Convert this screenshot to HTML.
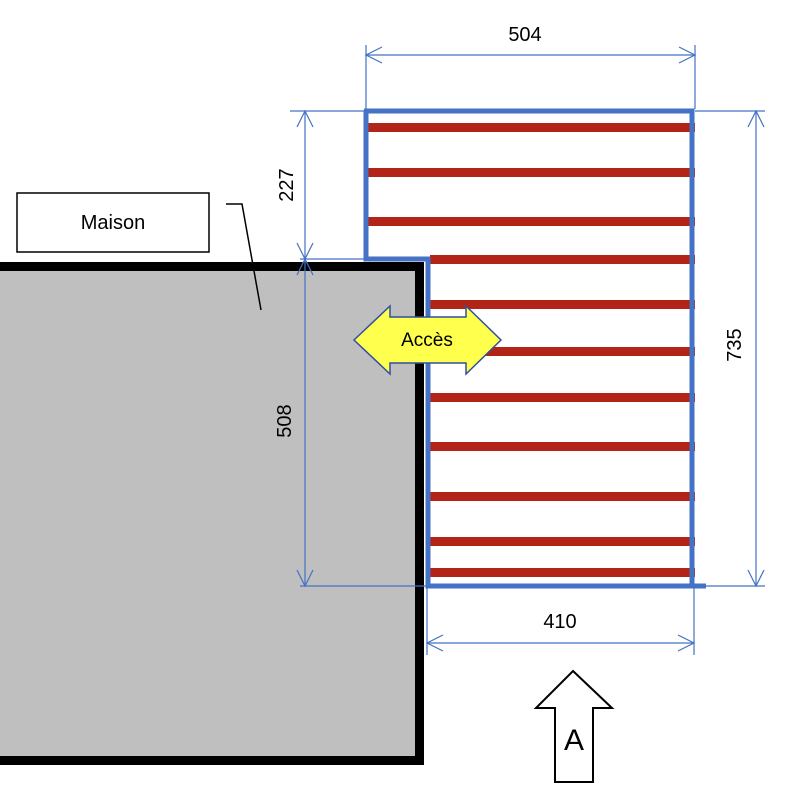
<!DOCTYPE html>
<html><head><meta charset="utf-8"><style>html,body{margin:0;padding:0;background:#fff}svg{display:block}text{font-family:"Liberation Sans",sans-serif}</style></head><body>
<svg width="800" height="796" viewBox="0 0 800 796" xmlns="http://www.w3.org/2000/svg">
<rect x="-10" y="266.5" width="429.5" height="494" fill="#bfbfbf" stroke="#000" stroke-width="9"/>
<rect x="17" y="193" width="192" height="59" fill="#fff" stroke="#000" stroke-width="1.5"/>
<text x="113" y="229" font-size="20" text-anchor="middle">Maison</text>
<polyline points="226,204 242,204 261,310" fill="none" stroke="#000" stroke-width="1.5"/>
<g fill="#b22418">
<rect x="368" y="123" width="327" height="9"/>
<rect x="368" y="168" width="327" height="9"/>
<rect x="368" y="217" width="327" height="9"/>
<rect x="430" y="255" width="265" height="9"/>
<rect x="430" y="300" width="265" height="9"/>
<rect x="430" y="347" width="265" height="9"/>
<rect x="430" y="393" width="265" height="9"/>
<rect x="430" y="442" width="265" height="9"/>
<rect x="430" y="492" width="265" height="9"/>
<rect x="430" y="537" width="265" height="9"/>
<rect x="430" y="568" width="265" height="9"/>
</g>
<polyline points="366,111 366,259 428,259 428,586 706,586" fill="none" stroke="#4472c4" stroke-width="5"/>
<polyline points="364,111 692,111 692,586" fill="none" stroke="#4472c4" stroke-width="5"/>
<g stroke="#4472c4" stroke-width="1.2" fill="none">
<line x1="366" y1="45" x2="366" y2="109"/><line x1="695" y1="45" x2="695" y2="109"/>
<line x1="366" y1="55" x2="695" y2="55"/>
<polyline points="382,47 366,55 382,63"/><polyline points="679,47 695,55 679,63"/>
<line x1="290" y1="111" x2="364" y2="111"/><line x1="300" y1="259" x2="364" y2="259"/>
<line x1="305" y1="111" x2="305" y2="259"/>
<polyline points="297,127 305,111 313,127"/><polyline points="297,243 305,259 313,243"/>
<line x1="305" y1="259" x2="305" y2="586"/>
<polyline points="297,275 305,259 313,275"/><polyline points="297,570 305,586 313,570"/>
<line x1="300" y1="586" x2="426" y2="586"/>
<line x1="695" y1="111" x2="765" y2="111"/><line x1="706" y1="586" x2="765" y2="586"/>
<line x1="756" y1="111" x2="756" y2="586"/>
<polyline points="748,127 756,111 764,127"/><polyline points="748,570 756,586 764,570"/>
<line x1="427" y1="588" x2="427" y2="655"/><line x1="694" y1="588" x2="694" y2="655"/>
<line x1="427" y1="643" x2="694" y2="643"/>
<polyline points="443,635 427,643 443,651"/><polyline points="678,635 694,643 678,651"/>
</g>
<text x="525" y="41" font-size="20" text-anchor="middle">504</text>
<text x="560" y="628" font-size="20" text-anchor="middle">410</text>
<text transform="translate(293,185) rotate(-90)" font-size="20" text-anchor="middle">227</text>
<text transform="translate(291,421) rotate(-90)" font-size="20" text-anchor="middle">508</text>
<text transform="translate(741,345) rotate(-90)" font-size="20" text-anchor="middle">735</text>
<polygon points="354,340 390,306 390,317 466,317 466,306 501,340 466,374 466,363 390,363 390,374" fill="#ffff4d" stroke="#2f4fa0" stroke-width="1.5"/>
<text x="427" y="346" font-size="19" text-anchor="middle">Accès</text>
<polygon points="573,671 612,708 593,708 593,782 555,782 555,708 536,708" fill="#fff" stroke="#000" stroke-width="2"/>
<text x="574" y="750" font-size="30" text-anchor="middle">A</text>
</svg>
</body></html>
